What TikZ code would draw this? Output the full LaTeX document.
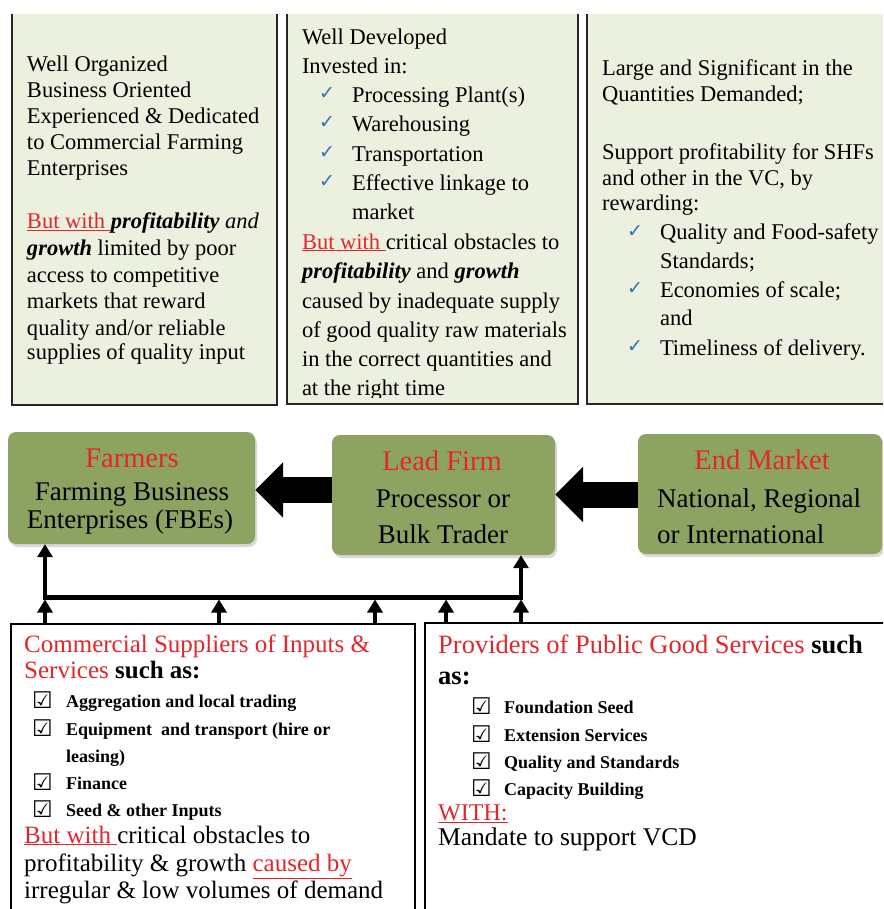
\documentclass[tikz,border=0pt]{standalone}
\usepackage{fontspec}
\setmainfont{LiberationSerif}[Extension=.ttf, UprightFont=*-Regular, BoldFont=*-Bold, ItalicFont=*-Italic, BoldItalicFont=*-BoldItalic]
\newfontfamily\symf{DejaVu Sans}
\usetikzlibrary{arrows.meta,shadows,calc}
\definecolor{boxgreen}{HTML}{EBF1DE}
\definecolor{midgreen}{HTML}{8DA362}
\definecolor{myred}{HTML}{E3262B}
\definecolor{chkblue}{HTML}{2E74B5}
\newcommand\redul[1]{\textcolor{myred}{\underline{#1}}}
\newcommand\bi[1]{\textbf{\textit{#1}}}
\tikzset{
  tl/.style={inner sep=0pt, outer sep=0pt, anchor=base west, font=\fontsize{22.5}{26}\selectfont},
  chk/.style={inner sep=0pt, anchor=base west, text=chkblue, font=\symf\fontsize{19}{19}\selectfont},
  cbx/.style={inner sep=0pt, anchor=base west, font=\symf\bfseries\fontsize{23}{23}\selectfont},
  bl/.style={inner sep=0pt, anchor=base west, font=\fontsize{25}{28}\selectfont},
  br/.style={inner sep=0pt, anchor=base west, font=\fontsize{26.5}{30}\selectfont},
  itm/.style={inner sep=0pt, anchor=base west, font=\bfseries\fontsize{18}{20}\selectfont},
  mtitle/.style={inner sep=0pt, anchor=base, text=myred, font=\fontsize{28.5}{30}\selectfont},
  mtxt/.style={inner sep=0pt, anchor=base, font=\fontsize{27}{30}\selectfont},
  midbox/.style={draw=none, fill=midgreen, rounded corners=8pt, inner sep=0pt,
    drop shadow={opacity=0.3, shadow xshift=2pt, shadow yshift=-3pt}},
  topline/.style={line width=2.2pt, draw=black!85},
  botbox/.style={draw=black, line width=2pt, fill=white, inner sep=0pt, anchor=north west},
  bigarr/.style={line width=26pt, -{Triangle[width=54pt,length=28pt]}},
  smarr/.style={line width=4.5pt, -{Triangle[width=15pt,length=13pt]}},
}
\begin{document}
\begin{tikzpicture}[x=1pt,y=-1pt]
\useasboundingbox (0,0) rectangle (883,909);
\clip (0,0) rectangle (883,909);
\fill[white] (0,0) rectangle (883,909);
% ---------- top boxes ----------
\fill[boxgreen] (12,14) rectangle (277,405);
\draw[topline] (12,14) -- (12,405) -- (277,405) -- (277,14);
\fill[boxgreen] (287,14) rectangle (578,404);
\draw[topline] (287,14) -- (287,404) -- (578,404) -- (578,14);
\fill[boxgreen] (587,14) rectangle (890,404);
\draw[topline] (587,14) -- (587,404) -- (890,404);
% box 1 text
\node[tl] (a1) at (27,72) {Well Organized};
\node[tl] (a2) at (27,98) {Business Oriented};
\node[tl] (a3) at (27,124) {Experienced \& Dedicated};
\node[tl] (a4) at (27,150) {to Commercial Farming};
\node[tl] (a5) at (27,176) {Enterprises};
\node[tl] (a6) at (27,229) {\redul{But with }\bi{profitability} \textit{and}};
\node[tl] (a7) at (27,255) {\bi{growth} limited by poor};
\node[tl] (a8) at (27,282) {access to competitive};
\node[tl] (a9) at (27,308) {markets that reward};
\node[tl] (a10) at (27,335) {quality and/or reliable};
\node[tl] (a11) at (27,359) {supplies of quality input};
% box 2 text
\begin{scope}
\clip (287,14) rectangle (578,397);
\node[tl] (b1) at (302,45) {Well Developed};
\node[tl] (b2) at (302,74) {Invested in:};
\node[chk] (bc1) at (319,100) {✓};
\node[tl] (b3) at (352,103) {Processing Plant(s)};
\node[chk] (bc2) at (319,129) {✓};
\node[tl] (b4) at (352,132) {Warehousing};
\node[chk] (bc3) at (319,159) {✓};
\node[tl] (b5) at (352,162) {Transportation};
\node[chk] (bc4) at (319,188) {✓};
\node[tl] (b6) at (352,191) {Effective linkage to};
\node[tl] (b7) at (352,220) {market};
\node[tl] (b8) at (302,249) {\redul{But with }critical obstacles to};
\node[tl] (b9) at (302,278) {\bi{profitability} and \bi{growth}};
\node[tl] (b10) at (302,308) {caused by inadequate supply};
\node[tl] (b11) at (302,337) {of good quality raw materials};
\node[tl] (b12) at (302,366) {in the correct quantities and};
\node[tl] (b13) at (302,395) {at the right time};
\end{scope}
% box 3 text
\node[tl] (c1) at (602,76) {Large and Significant in the};
\node[tl] (c2) at (602,102) {Quantities Demanded;};
\node[tl] (c3) at (602,160) {Support profitability for SHFs};
\node[tl] (c4) at (602,186) {and other in the VC, by};
\node[tl] (c5) at (602,211) {rewarding:};
\node[chk] (cc1) at (627,237) {✓};
\node[tl] (c6) at (660,240) {Quality and Food-safety};
\node[tl] (c7) at (660,268) {Standards;};
\node[chk] (cc2) at (627,294) {✓};
\node[tl] (c8) at (660,297) {Economies of scale;};
\node[tl] (c9) at (660,325) {and};
\node[chk] (cc3) at (627,352) {✓};
\node[tl] (c10) at (660,355) {Timeliness of delivery.};
% ---------- middle boxes ----------
\node[midbox, minimum width=247pt, minimum height=112pt] (farm) at (131.5,488) {};
\node[midbox, minimum width=223pt, minimum height=120pt] (lead) at (443.5,495) {};
\node[midbox, minimum width=244pt, minimum height=120pt] (endm) at (760,494) {};
\node[mtitle] (farmT) at (132,467) {Farmers};
\node[mtxt] (farm1) at (132,500) {Farming Business};
\node[mtxt] (farm2) at (130,528) {Enterprises (FBEs)};
\node[mtitle] (leadT) at (442,470) {Lead Firm};
\node[mtxt] (lead1) at (443,507) {Processor or};
\node[mtxt] (lead2) at (443,543) {Bulk Trader};
\node[mtitle] (endT) at (762,469) {End Market};
\node[mtxt, anchor=base west] (end1) at (657,507) {National, Regional};
\node[mtxt, anchor=base west] (end2) at (657,543) {or International};
% big arrows
\draw[bigarr] (lead.west |- 0,490) -- (farm.east |- 0,490);
\draw[bigarr] (endm.west |- 0,494.5) -- (lead.east |- 0,494.5);
% ---------- bottom boxes ----------
\node[botbox, minimum width=404pt, minimum height=300pt] (supp) at (10,623) {};
\node[botbox, minimum width=470pt, minimum height=300pt] (prov) at (424,622) {};
% connectors
\coordinate (j1) at (45,597);
\coordinate (j2) at (219,597);
\coordinate (j3) at (375,597);
\coordinate (j4) at (446,597);
\coordinate (j5) at (521,597);
\draw[line width=5pt] ([xshift=-2.25pt]j1) -- ([xshift=2.25pt]j5);
\draw[smarr] (j1) -- (j1 |- farm.south);
\draw[smarr] (j5) -- (j5 |- lead.south);
\draw[smarr, shorten >=2.5pt] (supp.north -| j1) -- (j1);
\draw[smarr, shorten >=2.5pt] (supp.north -| j2) -- (j2);
\draw[smarr, shorten >=2.5pt] (supp.north -| j3) -- (j3);
\draw[smarr, shorten >=2.5pt] (prov.north -| j4) -- (j4);
\draw[smarr, shorten >=2.5pt] (prov.north -| j5) -- (j5);
% bottom-left text
\node[bl, text=myred] (d1) at (24,652) {Commercial Suppliers of Inputs \&};
\node[bl] (d2) at (24,678) {\textcolor{myred}{Services} \textbf{such as:}};
\node[cbx] (dk1) at (32,708) {☑};
\node[itm] (d3) at (66,707) {Aggregation and local trading};
\node[cbx] (dk2) at (32,736) {☑};
\node[itm] (d4) at (66,735) {Equipment\ \ and transport (hire or};
\node[itm] (d5) at (66,762) {leasing)};
\node[cbx] (dk3) at (32,790) {☑};
\node[itm] (d6) at (66,789) {Finance};
\node[cbx] (dk4) at (32,817) {☑};
\node[itm] (d7) at (66,816) {Seed \& other Inputs};
\node[bl] (d8) at (24,843) {\redul{But with }critical obstacles to};
\node[bl] (d9) at (24,871) {profitability \& growth \redul{caused by}};
\node[bl] (d10) at (24,898) {irregular \& low volumes of demand};
% bottom-right text
\node[br] (e1) at (438,653) {\textcolor{myred}{Providers of Public Good Services} \textbf{such}};
\node[br] (e2) at (438,684) {\textbf{as:}};
\node[cbx] (ek1) at (471,714) {☑};
\node[itm] (e3) at (504,713) {Foundation Seed};
\node[cbx] (ek2) at (471,742) {☑};
\node[itm] (e4) at (504,741) {Extension Services};
\node[cbx] (ek3) at (471,769) {☑};
\node[itm] (e5) at (504,768) {Quality and Standards};
\node[cbx] (ek4) at (471,796) {☑};
\node[itm] (e6) at (504,795) {Capacity Building};
\node[bl, font=\fontsize{24}{26}\selectfont] (e7) at (438,820) {\redul{WITH:}};
\node[bl, font=\fontsize{25.5}{28}\selectfont] (e8) at (438,845) {Mandate to support VCD};
\end{tikzpicture}
\end{document}
